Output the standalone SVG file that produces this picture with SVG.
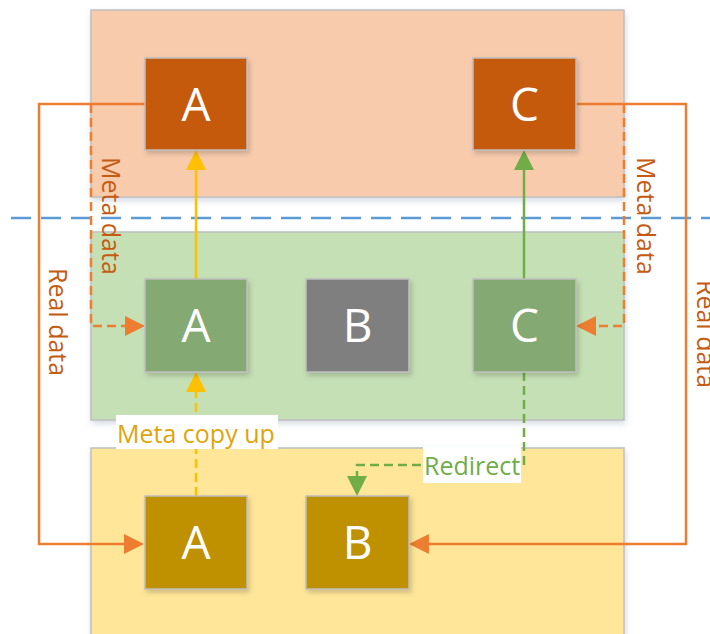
<svg xmlns="http://www.w3.org/2000/svg" width="710" height="634" viewBox="0 0 710 634">
  <style>
    .layer { stroke: #BFBFBF; stroke-width: 1.5; filter: url(#layerShadow); }
    .box { stroke: #BFBFBF; stroke-width: 1.5; filter: url(#boxShadow); }
    .top { fill: #C55A11; }
    .mid { fill: #84A973; }
    .gray { fill: #7F7F7F; }
    .low { fill: #BF9000; }
    .letter { font-family: "Open Sans", "Liberation Sans", sans-serif; font-size: 46px; fill: #FFFFFF; text-anchor: middle; }
    .lbl { font-family: "Open Sans", "Liberation Sans", sans-serif; font-size: 25px; }
    .orange-lbl { fill: #C55A11; }
    .line { fill: none; stroke-width: 2.5; }
    .orange { stroke: #ED7D31; }
    .yellow { stroke: #FFC000; }
    .green { stroke: #70AD47; }
    .dash { stroke-dasharray: 9 5; }
  </style>
  <defs>
    <filter id="layerShadow" x="-5%" y="-5%" width="110%" height="115%">
      <feDropShadow dx="1" dy="3" stdDeviation="3" flood-color="#8497B0" flood-opacity="0.35"/>
    </filter>
    <filter id="boxShadow" x="-10%" y="-10%" width="130%" height="130%">
      <feDropShadow dx="2" dy="3" stdDeviation="2.5" flood-color="#000000" flood-opacity="0.18"/>
    </filter>
    <marker id="arrOrange" markerUnits="userSpaceOnUse" markerWidth="20" markerHeight="20" refX="0" refY="10" orient="auto">
      <path d="M0,0 L20,10 L0,20 Z" fill="#ED7D31"/>
    </marker>
    <marker id="arrYellow" markerUnits="userSpaceOnUse" markerWidth="20" markerHeight="20" refX="0" refY="10" orient="auto">
      <path d="M0,0 L20,10 L0,20 Z" fill="#FFC000"/>
    </marker>
    <marker id="arrGreen" markerUnits="userSpaceOnUse" markerWidth="20" markerHeight="20" refX="0" refY="10" orient="auto">
      <path d="M0,0 L20,10 L0,20 Z" fill="#70AD47"/>
    </marker>
  </defs>

  <rect width="710" height="634" fill="#FFFFFF"/>

  <!-- storage layers -->
  <g id="layers">
    <rect id="layer-top" class="layer" x="91" y="10" width="533" height="187" fill="#F8CBAD"/>
    <rect id="layer-mid" class="layer" x="91" y="232" width="533" height="188" fill="#C5E0B4"/>
    <rect id="layer-low" class="layer" x="91" y="448" width="533" height="192" fill="#FFE699"/>
  </g>

  <!-- boundary line -->
  <line x1="11" y1="218" x2="710" y2="218" stroke="#5B9BD5" stroke-width="2.5" stroke-dasharray="20 10"/>

  <!-- connectors -->
  <g id="connectors">
    <path class="line orange" d="M145,104 H39 V544 H124" marker-end="url(#arrOrange)"/>
    <path class="line orange dash" d="M91,104 V326 H125" marker-end="url(#arrOrange)"/>
    <path class="line orange" d="M576,104 H686 V544 H429" marker-end="url(#arrOrange)"/>
    <path class="line orange dash" d="M624,104 V326 H596" marker-end="url(#arrOrange)"/>
    <path class="line yellow" d="M196,279 V170" marker-end="url(#arrYellow)"/>
    <path class="line green" d="M524,279 V170" marker-end="url(#arrGreen)"/>
    <path class="line yellow dash" d="M196,496 V392" marker-end="url(#arrYellow)"/>
    <path class="line green dash" d="M524,372 V465 H357 V476" marker-end="url(#arrGreen)"/>
  </g>

  <!-- nodes -->
  <g id="top-A">
    <rect class="box top" x="145" y="58" width="102" height="92"/>
    <text class="letter" x="196" y="121">A</text>
  </g>
  <g id="top-C">
    <rect class="box top" x="473" y="58" width="103" height="92"/>
    <text class="letter" x="524.5" y="121">C</text>
  </g>
  <g id="mid-A">
    <rect class="box mid" x="145" y="279" width="102" height="93"/>
    <text class="letter" x="196" y="342">A</text>
  </g>
  <g id="mid-B">
    <rect class="box gray" x="306" y="279" width="103" height="93"/>
    <text class="letter" x="357.5" y="342">B</text>
  </g>
  <g id="mid-C">
    <rect class="box mid" x="473" y="279" width="103" height="93"/>
    <text class="letter" x="524.5" y="342">C</text>
  </g>
  <g id="low-A">
    <rect class="box low" x="145" y="496" width="102" height="93"/>
    <text class="letter" x="196" y="559">A</text>
  </g>
  <g id="low-B">
    <rect class="box low" x="306" y="496" width="103" height="93"/>
    <text class="letter" x="357.5" y="559">B</text>
  </g>

  <!-- connector labels -->
  <g id="labels">
    <text class="lbl orange-lbl" transform="translate(102,157) rotate(90)">Meta data</text>
    <text class="lbl orange-lbl" transform="translate(49,268) rotate(90)">Real data</text>
    <text class="lbl orange-lbl" transform="translate(637,157) rotate(90)">Meta data</text>
    <text class="lbl orange-lbl" transform="translate(697,280) rotate(90)">Real data</text>
    <rect x="116" y="415" width="162" height="34" fill="#FFFFFF"/>
    <text class="lbl" x="117" y="443" fill="#E0A40B">Meta copy up</text>
    <rect x="423" y="447" width="98" height="36" fill="#FFFFFF"/>
    <text class="lbl" x="424" y="475" fill="#70AD47">Redirect</text>
  </g>
</svg>
